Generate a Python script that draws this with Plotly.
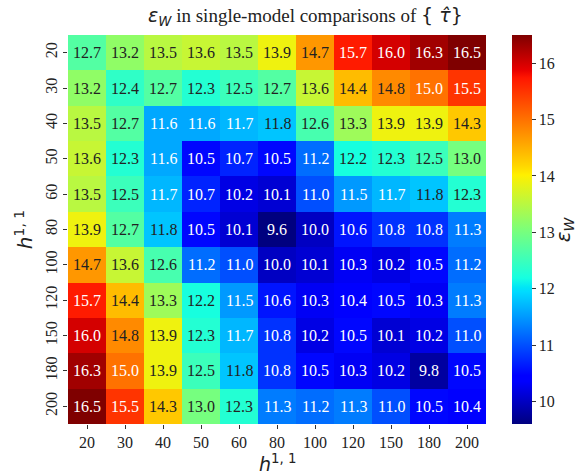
import plotly.graph_objects as go

# h^{1,1} values used for both axes
h11 = ["20", "30", "40", "50", "60", "80", "100", "120", "150", "180", "200"]

# eps_W for each pair of h^{1,1} values (rows follow h11 from top to bottom)
eps_w = [
    [12.7, 13.2, 13.5, 13.6, 13.5, 13.9, 14.7, 15.7, 16.0, 16.3, 16.5],
    [13.2, 12.4, 12.7, 12.3, 12.5, 12.7, 13.6, 14.4, 14.8, 15.0, 15.5],
    [13.5, 12.7, 11.6, 11.6, 11.7, 11.8, 12.6, 13.3, 13.9, 13.9, 14.3],
    [13.6, 12.3, 11.6, 10.5, 10.7, 10.5, 11.2, 12.2, 12.3, 12.5, 13.0],
    [13.5, 12.5, 11.7, 10.7, 10.2, 10.1, 11.0, 11.5, 11.7, 11.8, 12.3],
    [13.9, 12.7, 11.8, 10.5, 10.1, 9.6, 10.0, 10.6, 10.8, 10.8, 11.3],
    [14.7, 13.6, 12.6, 11.2, 11.0, 10.0, 10.1, 10.3, 10.2, 10.5, 11.2],
    [15.7, 14.4, 13.3, 12.2, 11.5, 10.6, 10.3, 10.4, 10.5, 10.3, 11.3],
    [16.0, 14.8, 13.9, 12.3, 11.7, 10.8, 10.2, 10.5, 10.1, 10.2, 11.0],
    [16.3, 15.0, 13.9, 12.5, 11.8, 10.8, 10.5, 10.3, 10.2, 9.8, 10.5],
    [16.5, 15.5, 14.3, 13.0, 12.3, 11.3, 11.2, 11.3, 11.0, 10.5, 10.4],
]

cbar_ticks = [10, 11, 12, 13, 14, 15, 16]

idx = list(range(len(h11)))

jet = [
    [0.0, "rgb(0,0,127)"],
    [0.11, "rgb(0,0,255)"],
    [0.125, "rgb(0,0,255)"],
    [0.34, "rgb(0,219,255)"],
    [0.35, "rgb(0,228,247)"],
    [0.375, "rgb(22,255,225)"],
    [0.5, "rgb(124,255,121)"],
    [0.64, "rgb(255,240,0)"],
    [0.65, "rgb(255,229,0)"],
    [0.66, "rgb(255,218,0)"],
    [0.89, "rgb(255,22,0)"],
    [0.91, "rgb(232,0,0)"],
    [1.0, "rgb(127,0,0)"],
]

serif = "Liberation Serif, Times New Roman, serif"
sans = "DejaVu Sans, sans-serif"

fig = go.Figure(
    go.Heatmap(
        z=eps_w,
        x=idx,
        y=idx,
        colorscale=jet,
        zmin=9.6,
        zmax=16.5,
        xgap=0,
        ygap=0,
        colorbar=dict(
            x=1.0622,
            xanchor="left",
            xpad=0,
            ypad=0,
            y=0.5,
            yanchor="middle",
            len=1.0,
            lenmode="fraction",
            thickness=20,
            outlinewidth=0,
            tickvals=cbar_ticks,
            ticks="outside",
            ticklen=4,
            tickcolor="#333",
            tickfont=dict(family=serif, size=16, color="#222"),
        ),
        hoverinfo="skip",
    )
)

annotations = []
for i, row in enumerate(eps_w):
    for j, v in enumerate(row):
        light = v <= 11.7 or v >= 15.0
        annotations.append(
            dict(
                x=idx[j],
                y=idx[i],
                xref="x",
                yref="y",
                text=f"{v:.1f}",
                showarrow=False,
                font=dict(family=serif, size=16, color="white" if light else "#222"),
            )
        )

# Title
annotations.append(
    dict(
        x=0.567,
        y=1.0,
        xref="paper",
        yref="paper",
        xanchor="center",
        yanchor="bottom",
        yshift=4,
        showarrow=False,
        text=(
            "<span style='font-family:DejaVu Sans'><i>ε</i><sub><i>W</i></sub></span>"
            " in single-model comparisons of "
            "<span style='font-family:DejaVu Sans'>{ <i>τ̂</i>}</span>"
        ),
        font=dict(family=serif, size=19, color="#222"),
    )
)

# Colorbar label
annotations.append(
    dict(
        x=1.186,
        y=0.5,
        xref="paper",
        yref="paper",
        xanchor="center",
        yanchor="middle",
        textangle=-90,
        showarrow=False,
        text="<i>ε</i><sub><i>W</i></sub>",
        font=dict(family=sans, size=20, color="#222"),
    )
)

# x-axis label
annotations.append(
    dict(
        x=0.5,
        y=-0.099,
        xref="paper",
        yref="paper",
        xanchor="center",
        yanchor="middle",
        showarrow=False,
        text="<i>h</i><sup>1, 1</sup>",
        font=dict(family=sans, size=19, color="#222"),
    )
)

fig.update_layout(
    width=584,
    height=474,
    margin=dict(l=68, r=98, t=35, b=50, autoexpand=False),
    paper_bgcolor="white",
    plot_bgcolor="white",
    annotations=annotations,
    xaxis=dict(
        tickvals=idx,
        ticktext=h11,
        range=[-0.5, len(h11) - 0.5],
        ticks="outside",
        ticklen=4,
        tickcolor="#333",
        tickfont=dict(family=serif, size=16, color="#222"),
        showgrid=False,
        zeroline=False,
        showline=False,
    ),
    yaxis=dict(
        tickvals=idx,
        ticktext=h11,
        range=[len(h11) - 0.5, -0.5],
        ticks="outside",
        ticklen=4,
        tickcolor="#333",
        tickangle=-90,
        tickfont=dict(family=serif, size=16, color="#222"),
        showgrid=False,
        zeroline=False,
        showline=False,
        title=dict(
            text="<i>h</i><sup>1, 1</sup>",
            font=dict(family=sans, size=20, color="#222"),
            standoff=4,
        ),
    ),
)

fig.write_html("out.html")
